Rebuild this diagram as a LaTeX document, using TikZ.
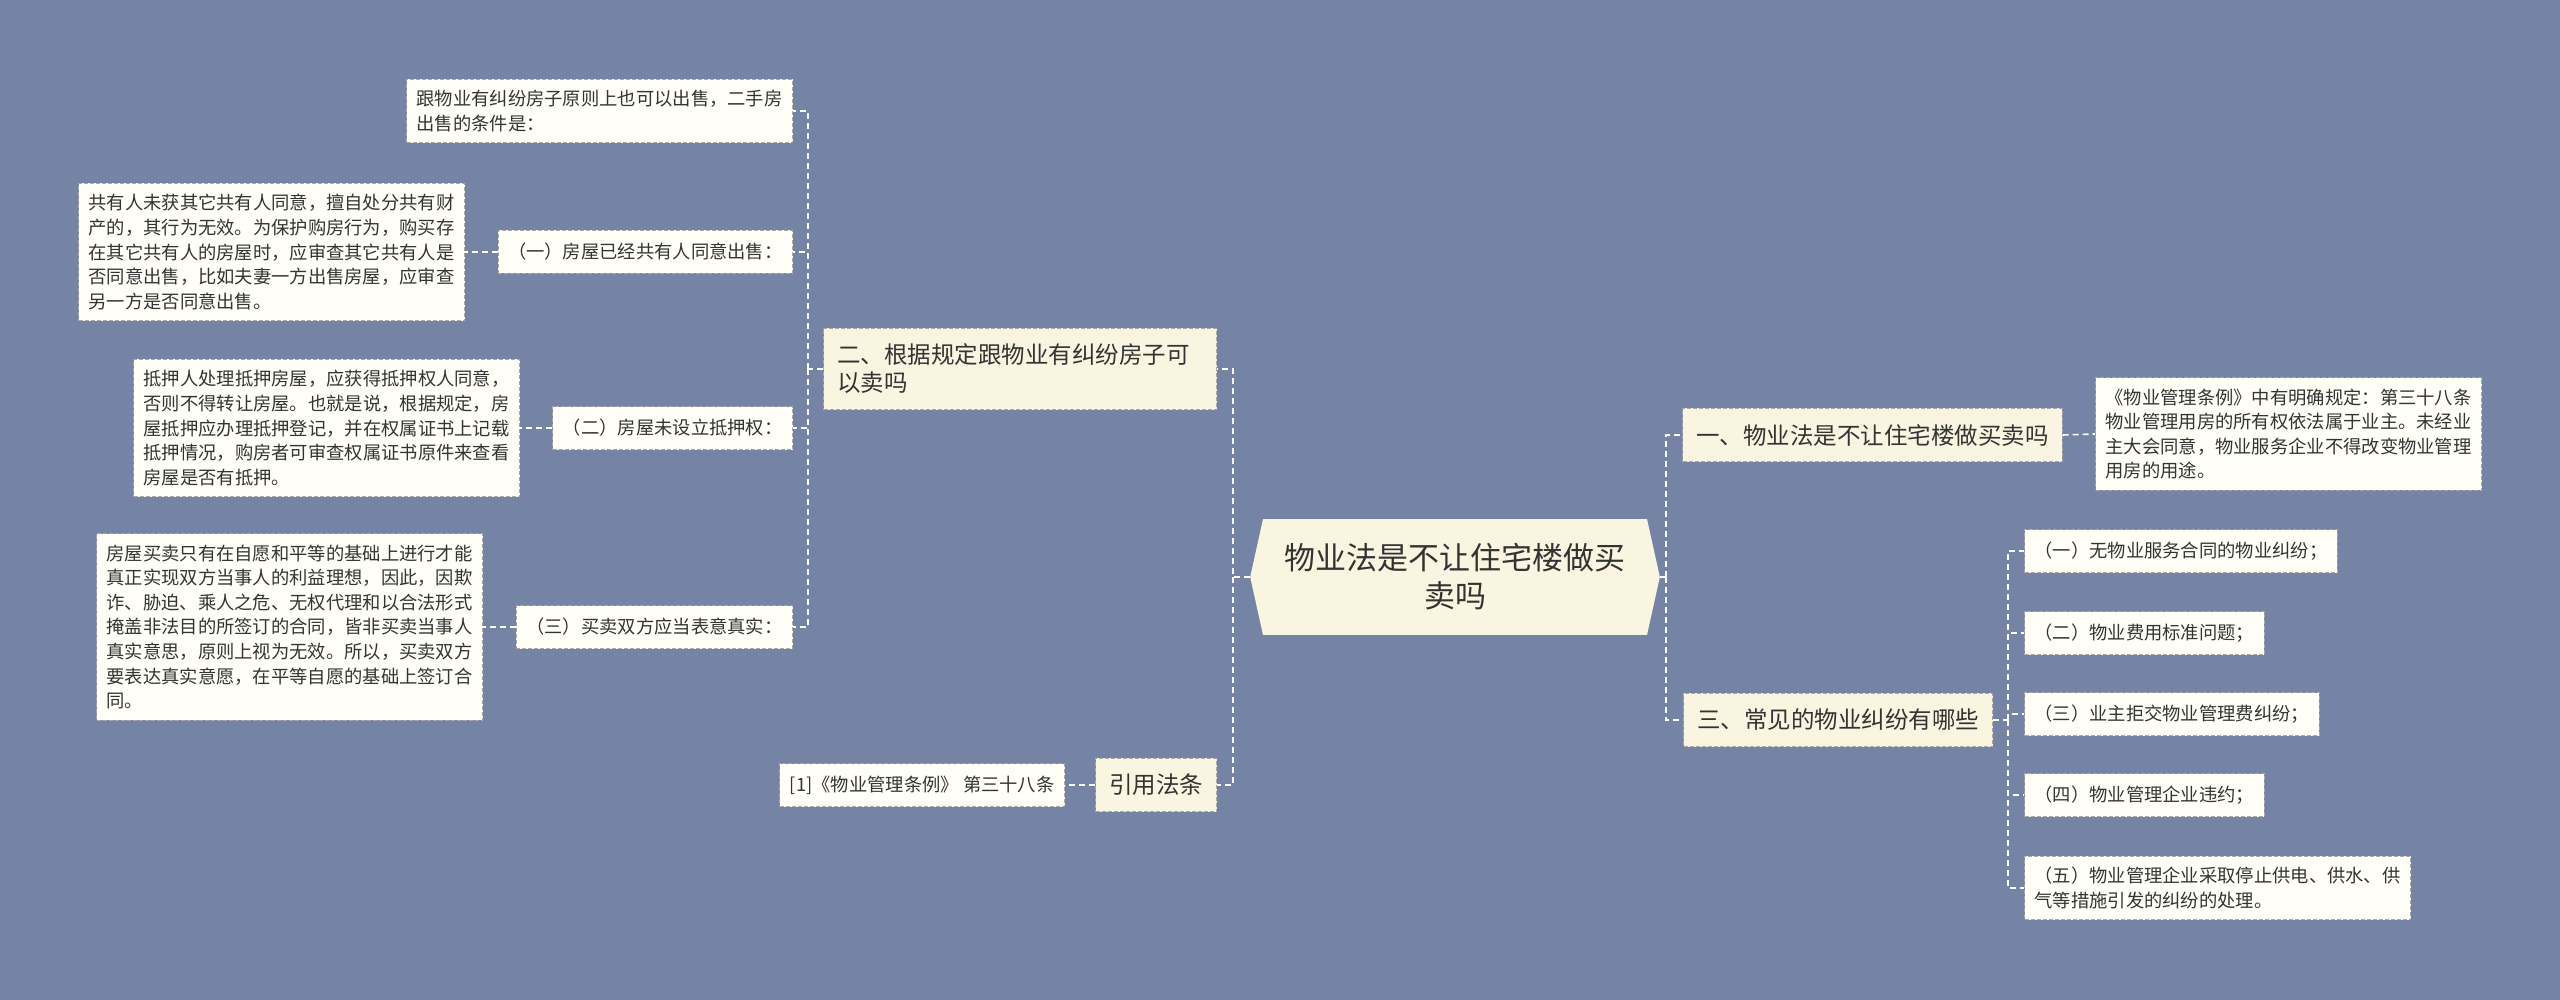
\documentclass[tikz,border=0pt]{standalone}
\usepackage{fontspec}
\setmainfont{Noto Sans CJK SC}
\usetikzlibrary{shapes.symbols}
\definecolor{bgblue}{HTML}{7584A4}
\definecolor{creamfill}{HTML}{F9F5E1}
\definecolor{leaffill}{HTML}{FFFFF8}
\definecolor{edgegray}{HTML}{A8A8A8}
\definecolor{textdark}{HTML}{333333}

\begin{document}
\begin{tikzpicture}[
  x=0.5pt, y=-0.5pt,
  topic/.style={signal, signal to=east and west, signal pointer angle=155, fill=creamfill, text=textdark, inner xsep=10.75pt, inner ysep=12.25pt, align=center, font=\fontsize{15.5pt}{19pt}\selectfont},
  branch/.style={rectangle, fill=creamfill, draw=edgegray, dash pattern=on 2pt off 1pt, line width=0.5pt, inner xsep=6.75pt, inner ysep=8pt, align=left, text=textdark, font=\fontsize{11.75pt}{14pt}\selectfont},
  leaf/.style={rectangle, fill=leaffill, draw=edgegray, dash pattern=on 2pt off 1pt, line width=0.5pt, inner xsep=5pt, inner ysep=5.5pt, minimum height=21.5pt, align=left, text=textdark, font=\fontsize{9.15pt}{12.3pt}\selectfont},
  link/.style={draw=white, line width=0.8pt, dash pattern=on 3pt off 2pt}
]
  \useasboundingbox[fill=bgblue] (0,0) rectangle (2560,1000);

  \node[topic] (root) at (1455,577) {物业法是不让住宅楼做买\\卖吗};

  \node[branch, anchor=east, text width=183pt] (b2) at (1217,369) {二、根据规定跟物业有纠纷房子可\\以卖吗};
  \node[branch, anchor=east] (b4) at (1217,785) {引用法条};
  \node[leaf, anchor=east] (law) at (1065,785) {[1]《物业管理条例》 第三十八条};

  \node[leaf, anchor=east] (q0) at (793,111) {跟物业有纠纷房子原则上也可以出售，二手房\\出售的条件是：};
  \node[leaf, anchor=east] (q1) at (793,252) {（一）房屋已经共有人同意出售：};
  \node[leaf, anchor=east] (q2) at (793,428) {（二）房屋未设立抵押权：};
  \node[leaf, anchor=east] (q3) at (793,627) {（三）买卖双方应当表意真实：};
  \node[leaf, anchor=east] (a1) at (465,252) {共有人未获其它共有人同意，擅自处分共有财\\产的，其行为无效。为保护购房行为，购买存\\在其它共有人的房屋时，应审查其它共有人是\\否同意出售，比如夫妻一方出售房屋，应审查\\另一方是否同意出售。};
  \node[leaf, anchor=east] (a2) at (520,428) {抵押人处理抵押房屋，应获得抵押权人同意，\\否则不得转让房屋。也就是说，根据规定，房\\屋抵押应办理抵押登记，并在权属证书上记载\\抵押情况，购房者可审查权属证书原件来查看\\房屋是否有抵押。};
  \node[leaf, anchor=east] (a3) at (483,627) {房屋买卖只有在自愿和平等的基础上进行才能\\真正实现双方当事人的利益理想，因此，因欺\\诈、胁迫、乘人之危、无权代理和以合法形式\\掩盖非法目的所签订的合同，皆非买卖当事人\\真实意思，原则上视为无效。所以，买卖双方\\要表达真实意愿，在平等自愿的基础上签订合\\同。};

  \node[branch, anchor=west] (b1) at (1682,435) {一、物业法是不让住宅楼做买卖吗};
  \node[leaf, anchor=west] (rule) at (2095,434) {《物业管理条例》中有明确规定：第三十八条\\物业管理用房的所有权依法属于业主。未经业\\主大会同意，物业服务企业不得改变物业管理\\用房的用途。};
  \node[branch, anchor=west] (b3) at (1683,720) {三、常见的物业纠纷有哪些};
  \node[leaf, anchor=west] (d1) at (2024,551) {（一）无物业服务合同的物业纠纷；};
  \node[leaf, anchor=west] (d2) at (2024,633) {（二）物业费用标准问题；};
  \node[leaf, anchor=west] (d3) at (2024,714) {（三）业主拒交物业管理费纠纷；};
  \node[leaf, anchor=west] (d4) at (2024,795) {（四）物业管理企业违约；};
  \node[leaf, anchor=west] (d5) at (2024,888) {（五）物业管理企业采取停止供电、供水、供\\气等措施引发的纠纷的处理。};

  \coordinate (jl) at (1233,577);
  \coordinate (jq) at (808,369);
  \coordinate (jr) at (1666,577);
  \coordinate (jd) at (2008,720);

  \draw[link] (root.west) -- (jl) |- (b2.east);
  \draw[link] (jl) |- (b4.east);
  \draw[link] (b4.west) -- (law.east);
  \draw[link] (b2.west) -- (jq);
  \draw[link] (jq) |- (q0.east);
  \draw[link] (jq) |- (q1.east);
  \draw[link] (jq) |- (q2.east);
  \draw[link] (jq) |- (q3.east);
  \draw[link] (q1.west) -- (a1.east);
  \draw[link] (q2.west) -- (a2.east);
  \draw[link] (q3.west) -- (a3.east);

  \draw[link] (root.east) -- (jr);
  \draw[link] (jr) |- (b1.west);
  \draw[link] (jr) |- (b3.west);
  \draw[link] (b1.east) -- (rule.west);
  \draw[link] (b3.east) -- (jd);
  \draw[link] (jd) |- (d1.west);
  \draw[link] (jd) |- (d2.west);
  \draw[link] (jd) |- (d3.west);
  \draw[link] (jd) |- (d4.west);
  \draw[link] (jd) |- (d5.west);
\end{tikzpicture}
\end{document}
